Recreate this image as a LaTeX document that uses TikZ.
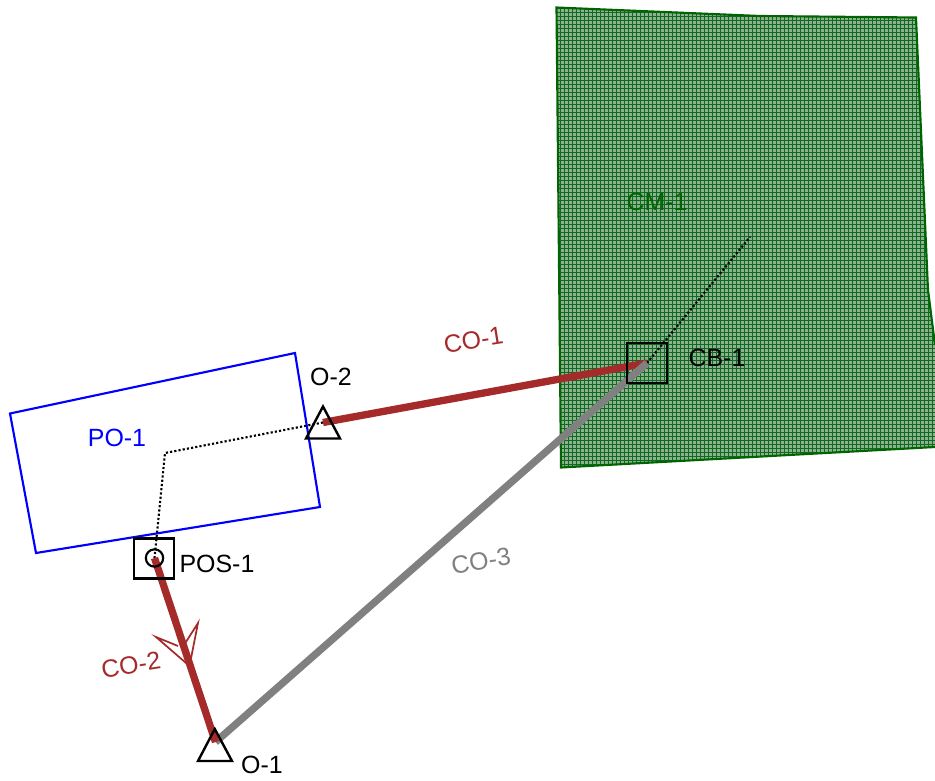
\documentclass[tikz,border=0pt]{standalone}
\usepackage{fontspec}
\setmainfont{Liberation Sans}
\usetikzlibrary{calc}
\definecolor{cogreen}{RGB}{0,100,0}
\definecolor{gridc}{RGB}{15,105,35}
\definecolor{cofill}{RGB}{140,178,142}
\definecolor{brownc}{RGB}{165,42,42}
\definecolor{grayc}{RGB}{128,128,128}
\tikzset{x=0.75pt,y=-0.75pt,
  lbl/.style={font=\fontsize{18.7}{22}\selectfont,inner sep=0pt},
  markbox/.style={draw=black,line width=1.7pt,minimum size=30pt,inner sep=0pt},
  tri/.style={draw=black,line width=1.8pt,line join=miter},
  dotline/.style={draw=black,line width=1.6pt,dash pattern=on 1.6pt off 1.6pt},
  thick brown/.style={draw=brownc,line width=5.5pt},
  thick gray/.style={draw=grayc,line width=5.5pt}}
\begin{document}
\begin{tikzpicture}
\useasboundingbox (0,0) rectangle (935,781);
% CM-1
\begin{scope}
\clip (556.5,7.5) -- (760,16) -- (916,17.5) -- (928,290) -- (935,345) -- (935,447) -- (561,467.5) -- cycle;
\fill[cofill] (550,0) rectangle (935,475);
\foreach \i in {0,...,97} {\draw[gridc,line width=0.72pt] ({552.5+4*\i},0) -- ({552.5+4*\i},475);}
\foreach \i in {0,...,119} {\draw[gridc,line width=0.72pt] (550,{0.5+4*\i}) -- (935,{0.5+4*\i});}
\end{scope}
\draw[cogreen,line width=1.6pt] (935,447) -- (561,467.5) -- (556.5,7.5) -- (760,16) -- (916,17.5) -- (928,290) -- (935,345);
% PO-1
\draw[blue,line width=1.6pt] (10,413.5) -- (295,353) -- (320,507) -- (36,553) -- cycle;
\coordinate (cbc) at (647,363);
\coordinate (ponec) at (154.5,558);
\coordinate (oa) at (215.5,742);
\coordinate (ob) at (323,422.5);
\coordinate (bend) at (165,453);
\coordinate (cmend) at (750,237);
% dotted
\draw[dotline] (ob) -- (bend) -- (ponec);
\draw[dotline] (cbc) -- (cmend);
% connectors
\draw[thick brown] (ob) -- (cbc);
\draw[thick gray] (oa) -- (cbc);
\draw[thick brown] (ponec) -- (oa);
% arrow
\draw[brownc,line width=1.3pt,line join=miter] (178,646) -- (156,637) -- (189.5,666) -- (198,623) -- (184,645);
% markers
\node[markbox] (cb) at (647,363) {};
\node[markbox] (pos) at (154,558.5) {};
\node[draw=black,line width=1.6pt,circle,minimum size=13pt,inner sep=0pt] (posc) at (154.5,558) {};
\draw[tri] (214.8,729) -- (232,761) -- (198,761) -- cycle;
\draw[tri] (323,406.5) -- (340,438.5) -- (306,438.5) -- cycle;
% labels
\node[lbl,text=blue] (l1) at (117,437.5) {PO-1};
\node[lbl,text=cogreen] (l2) at (657,202) {CM-1};
\node[lbl] (l3) at (717,358) {CB-1};
\node[lbl] (l4) at (217,563.5) {POS-1};
\node[lbl] (l5) at (331,377) {O-2};
\node[lbl] (l6) at (262,765) {O-1};
\node[lbl,text=brownc,rotate=9] (l7) at (473.5,340) {CO-1};
\node[lbl,text=brownc,rotate=9] (l8) at (131,665) {CO-2};
\node[lbl,text=grayc,rotate=9] (l9) at (481,561) {CO-3};
\end{tikzpicture}
\end{document}
